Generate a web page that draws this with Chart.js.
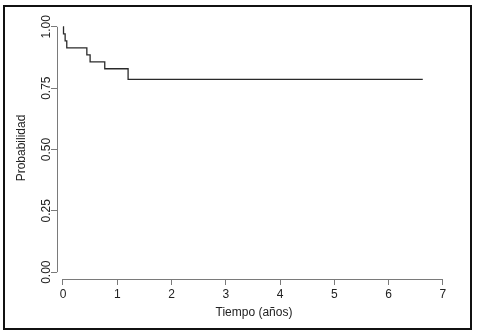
<!DOCTYPE html>
<html>
<head>
<meta charset="utf-8">
<script src="https://cdn.jsdelivr.net/npm/chart.js@4"></script>
<style>
  html, body { margin: 0; padding: 0; background: #fff; }
  #wrap { width: 480px; height: 331px; }
</style>
</head>
<body>
<div id="wrap"><canvas id="kmChart" width="480" height="331"></canvas></div>
<script>
// Curva de supervivencia (Kaplan-Meier)
const tiempos = [0, 0.01, 0.04, 0.07, 0.44, 0.50, 0.77, 1.20, 6.63];
const probabilidad = [1.000, 0.971, 0.943, 0.914, 0.886, 0.857, 0.829, 0.786, 0.786];
const xTicks = [0, 1, 2, 3, 4, 5, 6, 7];
const yTicks = [0, 0.25, 0.5, 0.75, 1];

const puntos = tiempos.map((t, i) => ({ x: t, y: probabilidad[i] }));
const fuente = { family: 'Liberation Sans, Arial, sans-serif', size: 12 };

// marco exterior y ejes tipo R
const rStyle = {
    id: 'rStyle',
    beforeDraw(chart) {
        const ctx = chart.ctx;
        ctx.save();
        ctx.fillStyle = '#fff';
        ctx.fillRect(0, 0, chart.width, chart.height);
        ctx.restore();
    },
    afterDraw(chart) {
        const ctx = chart.ctx;
        const x = chart.scales.x, y = chart.scales.y;
        ctx.save();
        ctx.strokeStyle = '#7a7a7a';
        ctx.lineWidth = 1;
        ctx.beginPath();
        ctx.moveTo(x.getPixelForValue(xTicks[0]), Math.round(y.bottom) + 0.5);
        ctx.lineTo(x.getPixelForValue(xTicks[xTicks.length - 1]), Math.round(y.bottom) + 0.5);
        ctx.moveTo(Math.round(x.left) + 0.5, y.getPixelForValue(yTicks[0]));
        ctx.lineTo(Math.round(x.left) + 0.5, y.getPixelForValue(yTicks[yTicks.length - 1]));
        ctx.stroke();
        ctx.strokeStyle = '#111';
        ctx.lineWidth = 2;
        ctx.strokeRect(4, 6, 467, 323);
        ctx.restore();
    }
};

new Chart(document.getElementById('kmChart'), {
    type: 'line',
    data: {
        datasets: [{
            label: 'Supervivencia',
            data: puntos,
            stepped: 'before',
            borderColor: '#2a2a2a',
            borderWidth: 1.3,
            pointRadius: 0,
            fill: false
        }]
    },
    options: {
        responsive: false,
        animation: false,
        layout: { padding: { top: 17, right: 29, left: 0, bottom: 0 } },
        plugins: {
            legend: { display: false },
            tooltip: { enabled: false }
        },
        scales: {
            x: {
                type: 'linear',
                min: -0.11,
                max: 7.15,
                afterBuildTicks: s => { s.ticks = xTicks.map(v => ({ value: v })); },
                afterFit: s => { s.height = 52; },
                border: { display: false },
                grid: { drawOnChartArea: false, drawTicks: true, tickLength: 6, color: '#7a7a7a' },
                ticks: {
                    padding: 2,
                    color: '#222',
                    font: fuente,
                    callback: v => String(v),
                    maxRotation: 0
                },
                title: {
                    display: true,
                    text: 'Tiempo (años)',
                    color: '#222',
                    font: fuente,
                    padding: { top: 0, bottom: 11 }
                }
            },
            y: {
                type: 'linear',
                min: -0.028,
                max: 1.04,
                afterBuildTicks: s => { s.ticks = yTicks.map(v => ({ value: v })); },
                afterFit: s => { s.width = 57; },
                border: { display: false },
                grid: { drawOnChartArea: false, drawTicks: true, tickLength: 6, color: '#7a7a7a' },
                ticks: {
                    padding: -7,
                    crossAlign: 'center',
                    color: '#222',
                    minRotation: 90,
                    maxRotation: 90,
                    font: fuente,
                    callback: v => Number(v).toFixed(2)
                },
                title: {
                    display: true,
                    text: 'Probabilidad',
                    color: '#222',
                    font: fuente,
                    padding: { top: 14, bottom: 0 }
                }
            }
        }
    },
    plugins: [rStyle]
});
</script>
</body>
</html>
